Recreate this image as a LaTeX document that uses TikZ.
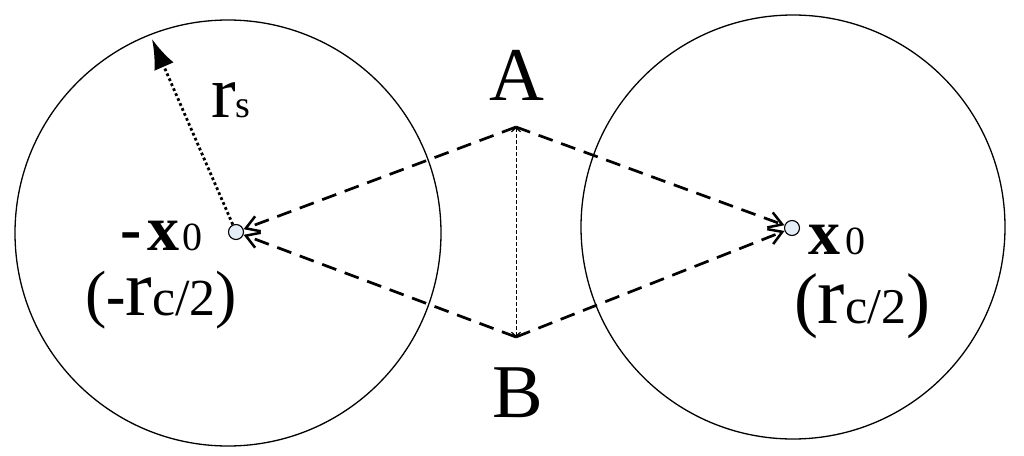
\documentclass[tikz,border=0pt]{standalone}
\usepackage{fontspec}
\setmainfont{Liberation Serif}
\usetikzlibrary{arrows.meta}
\definecolor{dotfill}{HTML}{E4ECF7}
\newcommand{\fs}[1]{\fontsize{#1}{#1}\selectfont}
\begin{document}
\begin{tikzpicture}[x=1pt,y=-1pt,
  ring/.style={draw=black,line width=1.3pt},
  dotn/.style={circle,draw=black,line width=1.1pt,fill=dotfill,minimum size=15pt,inner sep=0pt},
  dashlink/.style={line width=2.7pt,dash pattern=on 15pt off 9pt,-{Straight Barb[length=13pt,width=16pt,line width=2.5pt]}},
  midline/.style={line width=0.9pt,dash pattern=on 4pt off 2pt,{Straight Barb[length=4pt,width=9pt,line width=1.2pt]}-{Straight Barb[length=4pt,width=9pt,line width=1.2pt]}},
  radius arrow/.style={line width=2.8pt,dash pattern=on 2.8pt off 2.6pt,-{Latex[length=30pt,width=21pt]}},
  lbl/.style={anchor=base west,inner sep=0pt,outer sep=0pt},
  bigletter/.style={anchor=base,inner sep=0pt,font=\fs{76}}]
\useasboundingbox (0,0) rectangle (1024,455);
% circles
\draw[ring] (228,233) circle[radius=213];
\draw[ring] (793,227) circle[radius=212];
% centres
\node[dotn] (L) at (236,232) {};
\node[dotn] (R) at (792,228) {};
\coordinate (A) at (516,127);
\coordinate (B) at (516,337);
\coordinate (rsTip) at (152,39);
% connectors
\draw[dashlink] (A) -- (L);
\draw[dashlink] (B) -- (L);
\draw[dashlink] (A) -- (R);
\draw[dashlink] (B) -- (R);
\draw[midline] (A) -- (B);
\draw[radius arrow] (L) -- (rsTip);
% labels
\node[bigletter] (lA) at (517,100) {A};
\node[bigletter] (lB) at (518,417) {B};
\node[lbl] (lrs) at (211,117) {\fs{74}r\fs{38}s};
\node[lbl] (lx) at (120,250) {{\bfseries\fs{64}-\kern6pt x}\kern3pt\fs{40}0};
\node[lbl] (lrl) at (85,315) {\fs{64}({\bfseries\fs{58}-}\fs{80}r\fs{52}c/2\fs{64})};
\node[lbl] (lxr) at (808,254) {{\bfseries\fs{64}x}\kern5pt\fs{40}0};
\node[lbl] (lrr) at (794,323) {\fs{72}(\fs{82}r\fs{50}c/2\fs{72})};
\end{tikzpicture}
\end{document}
